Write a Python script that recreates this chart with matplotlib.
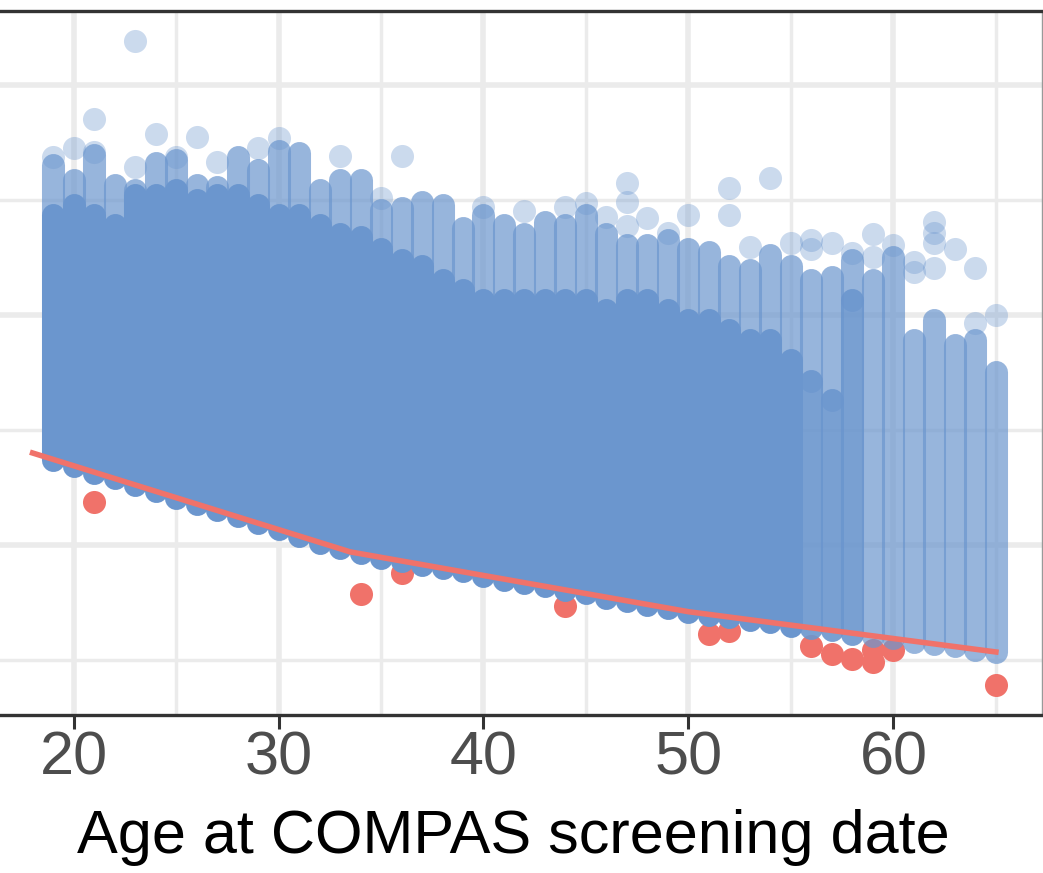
import matplotlib
matplotlib.use('Agg')
import matplotlib.pyplot as plt
from matplotlib.colors import to_rgba
from matplotlib.ticker import MultipleLocator

plt.rcParams['font.family'] = ['Liberation Sans', 'DejaVu Sans']

# --- dati (asse y senza etichette: unità arbitrarie) ---
ages = list(range(19, 66))

# estremo inferiore della nuvola blu per ogni età
cloud_low = [0.74, 0.69, 0.63, 0.58, 0.52, 0.47, 0.41, 0.36, 0.30, 0.25,
             0.19, 0.14, 0.08, 0.02, -0.03, -0.07, -0.11, -0.14, -0.17, -0.20,
             -0.23, -0.27, -0.30, -0.33, -0.36, -0.39, -0.42, -0.46, -0.49, -0.52,
             -0.55, -0.58, -0.61, -0.63, -0.65, -0.67, -0.70, -0.72, -0.74, -0.77,
             -0.79, -0.81, -0.84, -0.86, -0.88, -0.91, -0.93]

# fin dove la nuvola è piena
solid_top = [2.87, 2.96, 2.87, 2.78, 3.04, 3.04, 3.09, 3.00, 3.04, 3.04,
             2.96, 2.87, 2.87, 2.78, 2.70, 2.68, 2.57, 2.48, 2.43, 2.30,
             2.22, 2.13, 2.13, 2.13, 2.13, 2.13, 2.13, 2.04, 2.13, 2.13,
             2.04, 1.96, 1.96, 1.87, 1.78, 1.78, 1.61, 1.43, 1.26, 2.13,
             2.30, 2.50, 1.78, 1.96, 1.74, 1.78, 1.50]

# cima della colonna di punti sovrapposti
stack_top = [3.30, 3.17, 3.39, 3.13, 3.09, 3.32, 3.35, 3.13, 3.11, 3.37,
             3.26, 3.43, 3.41, 3.09, 3.17, 3.17, 2.91, 2.93, 2.98, 2.96,
             2.76, 2.87, 2.78, 2.70, 2.81, 2.78, 2.87, 2.70, 2.61, 2.61,
             2.65, 2.57, 2.55, 2.43, 2.39, 2.52, 2.43, 2.30, 2.33, 2.48,
             2.30, 2.50, 1.78, 1.96, 1.74, 1.78, 1.50]

# punti isolati sopra le colonne
out_age = [19, 20, 21, 21, 23, 23, 24, 25, 26, 27, 29, 30, 33, 35, 36,
           40, 42, 44, 45, 46, 47, 47, 47, 48, 49, 50, 52, 52, 53, 54,
           55, 56, 56, 57, 58, 59, 59, 60, 61, 61, 62, 62, 62, 62, 63,
           64, 64, 65]
out_y = [3.37, 3.45, 3.70, 3.42, 4.38, 3.29, 3.57, 3.37, 3.55, 3.33, 3.45, 3.54, 3.38, 3.02, 3.38,
         2.94, 2.90, 2.94, 2.97, 2.85, 3.15, 2.98, 2.77, 2.84, 2.71, 2.87, 3.10, 2.87, 2.59, 3.19,
         2.63, 2.65, 2.57, 2.63, 2.54, 2.70, 2.50, 2.61, 2.46, 2.37, 2.81, 2.71, 2.63, 2.41, 2.57,
         2.41, 1.93, 2.00]

# curva rossa (frontiera inferiore)
line_age = [18, 33.5, 50, 65]
line_y = [0.80, -0.06, -0.58, -0.93]

# punti rossi sotto la curva
red_age = [21, 34, 36, 44, 51, 52, 56, 57, 58, 59, 59, 60, 65]
red_y = [0.37, -0.43, -0.24, -0.53, -0.77, -0.75, -0.88, -0.95, -0.99,
         -0.91, -1.02, -0.91, -1.22]

blue = '#6B96CE'
red = '#F0726A'
dot_pt = 16.6   # diametro dei punti in pt

fig = plt.figure(figsize=(10.43, 8.73), dpi=100)
ax = fig.add_axes([0, 0.181, 1042 / 1043, 0.9874 - 0.181])

ax.scatter(red_age, red_y, s=dot_pt ** 2, color=red, linewidths=0, zorder=2)

# densità: colonne più rade per le età alte
solid_alpha = [1.0 if a <= 55 else 0.9 if a <= 58 else 0.7 for a in ages]
ax.vlines(ages, solid_top, stack_top, colors=[to_rgba(blue, 0.7)] * len(ages),
          linewidth=dot_pt, capstyle='round', zorder=3)
ax.vlines(ages, cloud_low, solid_top, colors=[to_rgba(blue, a) for a in solid_alpha],
          linewidth=dot_pt, capstyle='round', zorder=3)
ax.scatter(out_age, out_y, s=dot_pt ** 2, color=blue, alpha=0.35, linewidths=0, zorder=3)

ax.plot(line_age, line_y, color=red, lw=4, zorder=4)

ax.set_xlim(16.41, 67.25)
ax.set_ylim(-1.478, 4.643)
ax.xaxis.set_major_locator(MultipleLocator(10))
ax.xaxis.set_minor_locator(MultipleLocator(5))
ax.yaxis.set_major_locator(MultipleLocator(2))
ax.yaxis.set_minor_locator(MultipleLocator(1))
ax.set_axisbelow(True)
ax.grid(which='major', color='#EBEBEB', lw=4)
ax.grid(which='minor', color='#EBEBEB', lw=2.5)

ax.tick_params(axis='x', which='major', length=10, width=2.2, color='#333333',
               labelsize=44, labelcolor='#4D4D4D', pad=1)
ax.tick_params(axis='x', which='minor', length=0)
ax.tick_params(axis='y', which='both', length=0, labelleft=False)

ax.spines['left'].set_visible(False)
for s in ['top', 'bottom']:
    ax.spines[s].set_color('#333333')
    ax.spines[s].set_linewidth(2.4)
ax.spines['right'].set_color('#999999')
ax.spines['right'].set_linewidth(1)

ax.set_xlabel('Age at COMPAS screening date', fontsize=44, color='black')
ax.xaxis.set_label_coords(0.4928, -0.134)
ax.xaxis.label.set_va('top')

fig.savefig('out.png', dpi=100)
